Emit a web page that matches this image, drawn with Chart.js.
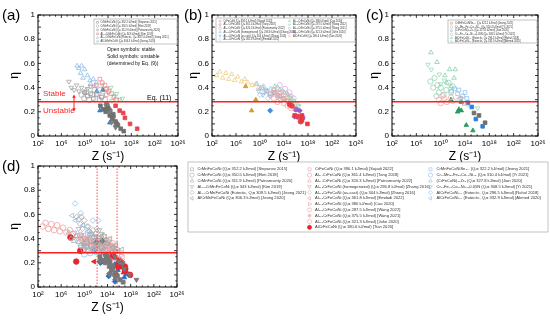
<!DOCTYPE html>
<html>
<head>
<meta charset="utf-8">
<title>eta vs Z</title>
<script src="https://cdn.jsdelivr.net/npm/chart.js@4"></script>
<style>
  html, body { margin: 0; padding: 0; background: #fff; }
  body { position: relative; width: 550px; height: 322px; overflow: hidden; }
  canvas { position: absolute; }
</style>
</head>
<body>
<canvas id="chartA" width="185" height="170" style="left:0;top:0"></canvas>
<canvas id="chartB" width="182" height="170" style="left:183px;top:0"></canvas>
<canvas id="chartC" width="185" height="170" style="left:365px;top:0"></canvas>
<canvas id="chartD" width="550" height="172" style="left:0;top:150px"></canvas>
<script>
// Axis ticks
const xTicks = [1e2, 1e6, 1e10, 1e14, 1e18, 1e22, 1e26];
const xTickLabels = ["10²", "10⁶", "10¹⁰", "10¹⁴", "10¹⁸", "10²²", "10²⁶"];
const yTicks = [0, 0.1, 0.2, 0.3, 0.4, 0.5, 0.6, 0.7, 0.8, 0.9, 1];
const yTickLabels = ["0", "0.1", "0.2", "0.3", "0.4", "0.5", "0.6", "0.7", "0.8", "0.9", "1"];

// Eq. (11) limit and the Z window marked in (d)
const etaLimit = 0.283;
const zWindow = [1.6e12, 4.5e15];

// Points: [Z (s^-1), eta, solid (1 = unstable)]
// (a) CrMnFeCoNi based
const stepanov2015 = [[1e10,0.36,0],[3e10,0.33,0],[1e11,0.35,0],[3e11,0.31,0],[1e12,0.34,0],[3e12,0.30,0],[8e12,0.32,0],
  [5e12,0.25,1],[1.5e13,0.22,1],[4e13,0.20,1],[1e14,0.23,1],[2e14,0.17,1],[5e14,0.14,1],[8e14,0.18,1],[2e15,0.12,1],[5e15,0.09,1],[1.5e16,0.06,1],[5e16,0.04,1]];
const eleti2018 = [[3e9,0.34,0],[8e9,0.31,0],[2e10,0.37,0],[6e10,0.30,0],[2e11,0.34,0],[5e11,0.38,0],[1.5e12,0.35,0],[4e12,0.38,0],[1e13,0.33,0],[3e13,0.30,0],
  [6e13,0.26,1],[2e14,0.21,1],[7e14,0.16,1],[3e15,0.10,1]];
const patnamsetty2020 = [[2e7,0.45,0],[5e7,0.40,0],[1.5e8,0.38,0],[4e8,0.42,0],[1e9,0.37,0],[3e9,0.40,0],[8e9,0.36,0],[3e10,0.39,0],[1e11,0.41,0],
  [4e14,0.11,1],[2e15,0.07,1]];
const kim2019 = [[1e12,0.42,0],[4e12,0.47,0],[1e13,0.44,0],[3e13,0.42,0],[6e13,0.39,0],[1.5e14,0.37,0],[4e14,0.35,0],[1e15,0.32,0],[3e15,0.30,0],[5e13,0.34,0],
  [2e15,0.25,1],[1e16,0.21,1],[4e16,0.19,1],[8e16,0.15,1],[6e17,0.10,1],[1e19,0.06,1]];
const jeong2021 = [[5e8,0.58,0],[1e9,0.56,0],[3e9,0.58,0],[2e9,0.52,0],[1e10,0.55,0],[3e10,0.50,0],[5e9,0.48,0],[8e10,0.46,0],[3e11,0.47,0],[1e11,0.43,0],[1e12,0.44,0],[5e11,0.41,0],
  [1.2e12,0.37,1],[1.3e13,0.38,1],[1.2e14,0.24,1],[4e12,0.21,1],[5e13,0.23,1],[2e14,0.11,1],[2e15,0.09,1]];
const jeong2020 = [[1e13,0.42,0],[4e13,0.39,0],[1e14,0.36,0],[3e14,0.40,0],[1e15,0.33,0],[3e15,0.35,0],[8e15,0.30,0],[3e16,0.31,0],[5e14,0.29,0]];

// (b) CrFeCoNi based
const sajadi2022 = [[2e10,0.40,0],[1e11,0.37,0],[5e11,0.35,0],[2e12,0.38,0],[1e13,0.33,0],[6e13,0.31,0]];
const tang2018 = [[3e12,0.36,0],[2e13,0.33,0],[1e14,0.31,0],[5e14,0.29,0],
  [8e14,0.26,1],[6e15,0.17,1],[1e17,0.17,1],[1e17,0.13,1],[8e17,0.10,1]];
const patnamsetty2022 = [[5e11,0.34,0],[2e12,0.31,0],[8e12,0.28,0],[3e13,0.30,0],[1e14,0.27,0],[4e14,0.25,0],[1.5e15,0.23,0],[3e13,0.36,0],[2e14,0.33,0],
  [2e15,0.25,1],[2e16,0.16,1],[6e16,0.12,1]];
const zhangHomog2016 = [[3e9,0.43,0],[1e10,0.39,0],[4e10,0.41,0],[1.5e11,0.37,0],[6e11,0.39,0],[3e12,0.35,0]];
const zhangCast2016 = [[6e9,0.37,0],[3e10,0.34,0],[1e11,0.38,0],[5e11,0.33,0],[2e12,0.36,0],[8e12,0.32,0]];
const emdadi2022 = [[1e10,0.34,0],[5e10,0.36,0],[2e11,0.31,0],[1e12,0.34,0],[5e12,0.37,0],[2e13,0.35,0],[5e11,0.21,1]];
const cao2020 = [[3e12,0.41,0],[2e13,0.38,0],[1e14,0.36,0],[4e14,0.34,0],[1.5e15,0.31,0],[5e15,0.29,0],[2e16,0.26,0]];
const wang2022 = [[1e13,0.34,0],[6e13,0.31,0],[3e14,0.29,0],[1e15,0.32,0],[5e15,0.27,0],[3e16,0.25,0]];
const wang2021 = [[8e12,0.40,0],[5e13,0.37,0],[3e14,0.35,0],[1.5e15,0.33,0],[8e14,0.27,1],[6e15,0.16,1],[4e16,0.21,1]];
const john2020 = [[2e13,0.42,0],[1.5e14,0.39,0],[8e14,0.36,0],[4e15,0.31,0],[1.2e17,0.15,1],[1e16,0.22,1]];
const tian2020 = [[6e2,0.50,0],[2e3,0.53,0],[6e3,0.48,0],[2e4,0.52,0],[6e4,0.47,0],[2e5,0.51,0],[6e5,0.46,0],[2e6,0.49,0],[8e6,0.45,0],[3e7,0.47,0],[1e8,0.44,0],[5e8,0.42,0],[2e9,0.43,0],[6e9,0.40,0],
  [4e7,0.41,1],[2e9,0.30,1],[4e8,0.21,1]];

// (c) other alloys
const jeongSn2021 = [[2e13,0.31,0],[8e13,0.27,0],[3e15,0.19,1],[2e16,0.17,1],[2e17,0.11,1]];
const yi2021 = [[5e9,0.30,0],[1e10,0.27,0],[4e10,0.31,0],[1e11,0.28,0],[5e11,0.32,0],[1e12,0.29,0],[2e10,0.33,0]];
const jian2020 = [[6e11,0.37,0],[2e12,0.39,0],[6e12,0.35,0],[1e13,0.38,0],[4e13,0.33,0],[1e14,0.36,0],[2e14,0.31,0],[1e13,0.30,0],
  [3e14,0.275,1],[1.3e15,0.24,1],[6e15,0.14,1],[8e16,0.08,1]];
const yiN2021 = [[2e8,0.45,0],[6e8,0.40,0],[1e9,0.48,0],[3e9,0.42,0],[5e9,0.36,0],[1e10,0.40,0],[3e10,0.34,0],[8e10,0.38,0],[2e11,0.44,0],[5e11,0.36,0],[1e12,0.41,0],[2e9,0.33,0]];
const rahul2018 = [[2.5e8,0.69,0],[2.5e9,0.61,0],[3e11,0.55,0],[2.5e12,0.55,0],[1.6e12,0.48,0],[5e10,0.50,0],[1e11,0.44,0],[5e11,0.41,0],
  [5e11,0.30,1],[2.5e13,0.28,1],[6e12,0.20,1],[2.5e13,0.21,1],[1e13,0.22,1],[1.6e14,0.09,1],[2e15,0.045,1]];
const ahmed2020 = [[8e7,0.59,0],[3e8,0.55,0],[6e9,0.51,0],[4e10,0.46,0],[1e10,0.43,0],[3e14,0.26,0],[1.2e16,0.23,0]];

const seriesA = [stepanov2015, eleti2018, patnamsetty2020, kim2019, jeong2021, jeong2020];
const seriesB = [sajadi2022, tang2018, patnamsetty2022, zhangHomog2016, zhangCast2016, emdadi2022, cao2020, wang2022, wang2021, john2020, tian2020];
const seriesC = [jeongSn2021, yi2021, jian2020, yiN2021, rahul2018, ahmed2020];

const legendA = [
  "CrMnFeCoNi (Qₗ= 352.2 kJ/mol) [Stepanov 2015]",
  "CrMnFeCoNi (Qₗ= 350.5 kJ/mol) [Eleti 2018]",
  "CrMnFeCoNi (Qₗ= 311.9 kJ/mol) [Patnamsetty 2020]",
  "Al₀.₃CrMnFeCoNi (Qₗ= 343 kJ/mol) [Kim 2019]",
  "Al₀.₇CrMnFeCoNi (Eutectic, Qₗ= 309.5 kJ/mol) [Jeong 2021]",
  "AlCrMnFeCoNi (Qₗ= 306.3 kJ/mol) [Jeong 2020]"
];
const legendB = [
  "CrFeCoNi (Qₗ= 390.1 kJ/mol) [Sajadi 2022]",
  "Al₀.₁CrFeCoNi (Qₗ= 361.4 kJ/mol) [Tang 2018]",
  "Al₀.₁CrFeCoNi (Qₗ= 320.3 kJ/mol) [Patnamsetty 2022]",
  "Al₀.₃CrFeCoNi (homogenized) (Qₗ= 296.8 kJ/mol) [Zhang 2016]",
  "Al₀.₃CrFeCoNi (as-cast) (Qₗ= 304 kJ/mol) [Zhang 2016]",
  "Al₀.₃CrFeCoNi (Qₗ= 361.8 kJ/mol) [Emdadi 2022]",
  "Al₀.₃CrFeCoNi (Qₗ= 380 kJ/mol) [Cao 2020]",
  "Al₀.₅CrFeCoNi (Qₗ= 287.5 kJ/mol) [Wang 2022]",
  "Al₀.₅CrFeCoNi (Qₗ= 375.5 kJ/mol) [Wang 2021]",
  "Al₀.₆CrFeCoNi (Qₗ= 321.3 kJ/mol) [John 2020]",
  "AlCrFeCoNi (Qₗ= 180.6 kJ/mol) [Tian 2020]"
];
const legendC = [
  "CrMnFeCoNiSn₀.₁ (Qₗ= 322.2 kJ/mol) [Jeong 2021]",
  "Cr₁₀Mn₃₀Fe₃₀Co₁₀Ni₂₀ (Qₗ= 310.4 kJ/mol) [Yi 2021]",
  "(CrFeCoNi)₉₇Zr₃ (Qₗ= 327.8 kJ/mol) [Jian 2020]",
  "Cr₂₀Fe₂₀Co₂₀Ni₄₀-0.05N (Qₗ= 308.5 kJ/mol) [Yi 2021]",
  "AlCrFeCoNi₂.₁ (Eutectic, Qₗ= 296.5 kJ/mol) [Rahul 2018]",
  "AlCrFeCoNi₂.₁ (Eutectic, Qₗ= 332.9 kJ/mol) [Ahmed 2020]"
];

// marker per series: [shape in own panel, open colour, solid colour, shape in (d)]
const styleA = [
  ["sq", "#9c9c9c", "#6f6f6f", "sq"],
  ["ci", "#ababab", "#7c7c7c", "ci"],
  ["td", "#a3a3a3", "#808080", "tu"],
  ["sq", "#f08a8e", "#e6454b", "td"],
  ["tu", "#8bbdea", "#2e7fd0", "di"],
  ["td", "#8dd2ae", "#3aa56f", "tl"]
];
const styleB = [
  ["sq", "#c7b3b3", "#9a8080", "sq"],
  ["sq", "#f08c8c", "#e8393f", "ci"],
  ["ci", "#f5a5a5", "#e0474d", "tu"],
  ["tu", "#9cc6ee", "#3a84d0", "td"],
  ["td", "#8fbce8", "#2f78c8", "di"],
  ["di", "#a9cff2", "#3f8ee0", "tl"],
  ["tu", "#8fd4ad", "#3aa56f", "tr"],
  ["td", "#a5dcbc", "#3aa56f", "hx"],
  ["di", "#c8a6e0", "#9b59c4", "st"],
  ["ci", "#dcb0ea", "#a561cc", "ci"],
  ["tu", "#efcd84", "#d89b2b", "ci"]
];
const styleC = [
  ["sq", "#a8a8a8", "#6e6e6e", "sq"],
  ["ci", "#f4a9a9", "#e0474d", "ci"],
  ["sq", "#94c0ee", "#2f7fd6", "tu"],
  ["ci", "#94d6b8", "#3aa56f", "td"],
  ["tu", "#86d0a8", "#2a9a5c", "di"],
  ["td", "#9ad9bd", "#3aa56f", "tl"]
];
const groupGray = ["#a9a9a9", "#777777"];
const groupRed = ["#f2a0a2", "#e3262d"];
const groupBlue = ["#92bdee", "#1f6fd0"];

const shapes = {
  sq: ["rect", 0], ci: ["circle", 0], tu: ["triangle", 0], td: ["triangle", 180],
  tl: ["triangle", 270], tr: ["triangle", 90], di: ["rectRot", 0], hx: ["rectRounded", 0], st: ["star", 0]
};

Chart.defaults.font.family = "Arial, 'Liberation Sans', sans-serif";
Chart.defaults.color = "#000";

function scatterSet(points, shape, openColor, solidColor, radius) {
  const [style, rot] = shapes[shape];
  return {
    type: "scatter",
    data: points.map(p => ({ x: p[0], y: p[1] })),
    showLine: false,
    pointStyle: style,
    pointRotation: rot,
    pointRadius: radius,
    pointBorderWidth: 0.8,
    pointBorderColor: points.map(p => (p[2] ? solidColor : openColor)),
    pointBackgroundColor: points.map(p => (p[2] ? solidColor : "rgba(255,255,255,0)")),
    order: 2
  };
}

function limitLine() {
  return {
    type: "line",
    data: [{ x: xTicks[0], y: etaLimit }, { x: xTicks[xTicks.length - 1], y: etaLimit }],
    borderColor: "#ff1e1e", borderWidth: 1.3, pointRadius: 0, order: 0
  };
}

function windowLine(z) {
  return {
    type: "line",
    data: [{ x: z, y: yTicks[0] }, { x: z, y: yTicks[yTicks.length - 1] }],
    borderColor: "#ff3a3a", borderWidth: 0.9, borderDash: [1.5, 1.5], pointRadius: 0, order: 0
  };
}

function marker(ctx, shape, x, y, r, color, filled) {
  const [style, rot] = shapes[shape];
  ctx.strokeStyle = color;
  ctx.fillStyle = filled ? color : "rgba(255,255,255,0)";
  ctx.lineWidth = 0.6;
  Chart.helpers.drawPoint(ctx, { pointStyle: style, rotation: rot, radius: r, borderWidth: 0.6 }, x, y);
}

function text(ctx, s, x, y, size, color, align, rotate) {
  ctx.save();
  ctx.font = size + "px Arial, 'Liberation Sans', sans-serif";
  ctx.fillStyle = color;
  ctx.textAlign = align || "left";
  ctx.textBaseline = "middle";
  ctx.translate(x, y);
  if (rotate) ctx.rotate(rotate);
  ctx.fillText(s, 0, 0);
  ctx.restore();
}

function drawLegend(ctx, spec) {
  const [x0, y0, x1, y1] = spec.box;
  ctx.fillStyle = "#fff";
  ctx.fillRect(x0, y0, x1 - x0, y1 - y0);
  ctx.strokeStyle = "#9a9a9a";
  ctx.lineWidth = 0.6;
  ctx.strokeRect(x0, y0, x1 - x0, y1 - y0);
  spec.columns.forEach(col => {
    col.items.forEach((it, i) => {
      const y = spec.rowStart + i * spec.rowGap;
      marker(ctx, it.shape, col.symX, y, spec.radius, it.color, it.filled);
      text(ctx, it.label, col.textX, y, spec.fontSize, "#333");
    });
  });
}

const decoPlugin = {
  id: "deco",
  afterDraw(chart, args, o) {
    const ctx = chart.ctx, a = chart.chartArea;
    const xs = chart.scales.x, ys = chart.scales.y;
    ctx.save();
    ctx.strokeStyle = "#000";
    ctx.lineWidth = 1;
    ctx.strokeRect(a.left, a.top, a.right - a.left, a.bottom - a.top);
    ctx.lineWidth = 0.8;
    ctx.beginPath();
    for (let e = 2; e <= 26; e++) {
      const px = xs.getPixelForValue(Math.pow(10, e));
      const len = (e - 2) % 4 === 0 ? 3 : 1.6;
      ctx.moveTo(px, a.bottom); ctx.lineTo(px, a.bottom - len);
      ctx.moveTo(px, a.top); ctx.lineTo(px, a.top + len);
    }
    for (let k = 0; k <= 20; k++) {
      const py = ys.getPixelForValue(k * 0.05);
      const len = k % 2 === 0 ? 3 : 1.6;
      ctx.moveTo(a.left, py); ctx.lineTo(a.left + len, py);
      ctx.moveTo(a.right, py); ctx.lineTo(a.right - len, py);
    }
    ctx.stroke();

    const midX = (a.left + a.right) / 2, midY = (a.top + a.bottom) / 2;
    text(ctx, o.letter, a.left + o.letterDx, a.top + 1, 15, "#000");
    text(ctx, "η", a.left + o.etaDx, midY, 12, "#000", "center", -Math.PI / 2);
    text(ctx, "Z (s⁻¹)", midX, a.bottom + 21, 12, "#000", "center");

    // legend boxes and notes are placed in page coordinates
    ctx.translate(-o.ox, -o.oy);
    if (o.legend) drawLegend(ctx, o.legend);
    if (o.notes) o.notes(ctx);
    ctx.restore();
  }
};

function buildChart(id, datasets, ox, oy, area, deco) {
  const canvas = document.getElementById(id);
  const w = canvas.width, h = canvas.height;
  deco.ox = ox; deco.oy = oy;
  return new Chart(canvas, {
    type: "scatter",
    data: { datasets },
    options: {
      responsive: false,
      animation: false,
      events: [],
      layout: {
        padding: { left: area.left - ox - 24, right: ox + w - area.right, top: area.top - oy, bottom: oy + h - area.bottom - 14 }
      },
      plugins: { legend: { display: false }, tooltip: { enabled: false }, deco },
      scales: {
        x: {
          type: "logarithmic",
          min: xTicks[0],
          max: xTicks[xTicks.length - 1],
          grid: { display: false, drawTicks: false },
          border: { display: false },
          afterBuildTicks: s => { s.ticks = xTicks.map(v => ({ value: v })); },
          afterFit: s => { s.height = 14; s.paddingLeft = 0; s.paddingRight = 0; },
          ticks: { autoSkip: false, maxRotation: 0, padding: 3, font: { size: 8 }, callback: (v, i) => xTickLabels[i] }
        },
        y: {
          min: yTicks[0],
          max: yTicks[yTicks.length - 1],
          grid: { display: false, drawTicks: false },
          border: { display: false },
          afterBuildTicks: s => { s.ticks = yTicks.map(v => ({ value: v })); },
          afterFit: s => { s.width = 24; s.paddingTop = 0; s.paddingBottom = 0; },
          ticks: { padding: 3, font: { size: 8 }, callback: (v, i) => yTickLabels[i] }
        }
      }
    },
    plugins: [decoPlugin]
  });
}

function ownSets(series, styles) {
  return series.map((pts, i) => scatterSet(pts, styles[i][0], styles[i][1], styles[i][2], 2.6));
}
function groupSets(series, styles, group) {
  return series.map((pts, i) => scatterSet(pts, styles[i][3], group[0], group[1], 2.8));
}
function legendItems(labels, styles, color) {
  return labels.map((label, i) => ({ label, shape: styles[i][0], color: color || styles[i][1], filled: false }));
}

// (a)
buildChart("chartA", [...ownSets(seriesA, styleA), limitLine()], 0, 0,
  { left: 38, right: 178, top: 15, bottom: 136 },
  {
    letter: "(a)", letterDx: -36, etaDx: -23,
    legend: {
      box: [94, 19, 177, 44], rowStart: 22.3, rowGap: 3.85, fontSize: 2.6, radius: 1.3,
      columns: [{ symX: 97.5, textX: 100.5, items: legendItems(legendA, styleA) }]
    },
    notes: ctx => {
      text(ctx, "Open symbols: stable", 107, 50, 5, "#111");
      text(ctx, "Solid symbols: unstable", 107, 57, 5, "#111");
      text(ctx, "(determined by Eq. (9))", 107, 64, 5, "#111");
      text(ctx, "Stable", 43, 94, 8, "#ff1e1e");
      text(ctx, "Unstable", 43, 111, 8, "#ff1e1e");
      text(ctx, "Eq. (11)", 147, 98.5, 7, "#000");
      ctx.strokeStyle = "#ff1e1e"; ctx.fillStyle = "#ff1e1e"; ctx.lineWidth = 1;
      ctx.beginPath(); ctx.moveTo(74, 97); ctx.lineTo(74, 109); ctx.stroke();
      ctx.beginPath(); ctx.moveTo(74, 94.5); ctx.lineTo(72.2, 97.8); ctx.lineTo(75.8, 97.8); ctx.closePath(); ctx.fill();
      ctx.beginPath(); ctx.moveTo(74, 111.5); ctx.lineTo(72.2, 108.2); ctx.lineTo(75.8, 108.2); ctx.closePath(); ctx.fill();
    }
  });

// (b)
buildChart("chartB", [...ownSets(seriesB, styleB), limitLine()], 183, 0,
  { left: 212, right: 356, top: 15, bottom: 136 },
  {
    letter: "(b)", letterDx: -28, etaDx: -18,
    legend: {
      box: [216, 18, 355, 42], rowStart: 21, rowGap: 3.7, fontSize: 2.6, radius: 1.3,
      columns: [
        { symX: 220, textX: 223.5, items: legendItems(legendB.slice(0, 6), styleB.slice(0, 6)) },
        { symX: 289.5, textX: 293, items: legendItems(legendB.slice(6), styleB.slice(6)) }
      ]
    }
  });

// (c)
buildChart("chartC", [...ownSets(seriesC, styleC), limitLine()], 365, 0,
  { left: 392, right: 538, top: 15, bottom: 136 },
  {
    letter: "(c)", letterDx: -26, etaDx: -17,
    legend: {
      box: [448, 20, 537, 43], rowStart: 23.2, rowGap: 3.7, fontSize: 2.6, radius: 1.3,
      columns: [{ symX: 451.5, textX: 455, items: legendItems(legendC, styleC) }]
    }
  });

// (d) all alloys together
const dLegendB = legendB.map((label, i) => ({ label, shape: styleB[i][3], color: groupRed[0], filled: i === legendB.length - 1 }));
dLegendB[dLegendB.length - 1].color = groupRed[1];
buildChart("chartD", [
  ...groupSets(seriesA, styleA, groupGray),
  ...groupSets(seriesB, styleB, groupRed),
  ...groupSets(seriesC, styleC, groupBlue),
  limitLine(), windowLine(zWindow[0]), windowLine(zWindow[1])
], 0, 150,
  { left: 38, right: 177, top: 166, bottom: 287 },
  {
    letter: "(d)", letterDx: -36, etaDx: -23,
    legend: {
      box: [188, 162, 548, 232], rowStart: 169.3, rowGap: 5.8, fontSize: 4.1, radius: 2.1,
      columns: [
        { symX: 192, textX: 197.5, items: legendA.map((label, i) => ({ label, shape: styleA[i][3], color: groupGray[0], filled: false })) },
        { symX: 309.5, textX: 315, items: dLegendB },
        { symX: 430.5, textX: 436.5, items: legendC.map((label, i) => ({ label, shape: styleC[i][3], color: groupBlue[0], filled: false })) }
      ]
    }
  });
</script>
</body>
</html>
